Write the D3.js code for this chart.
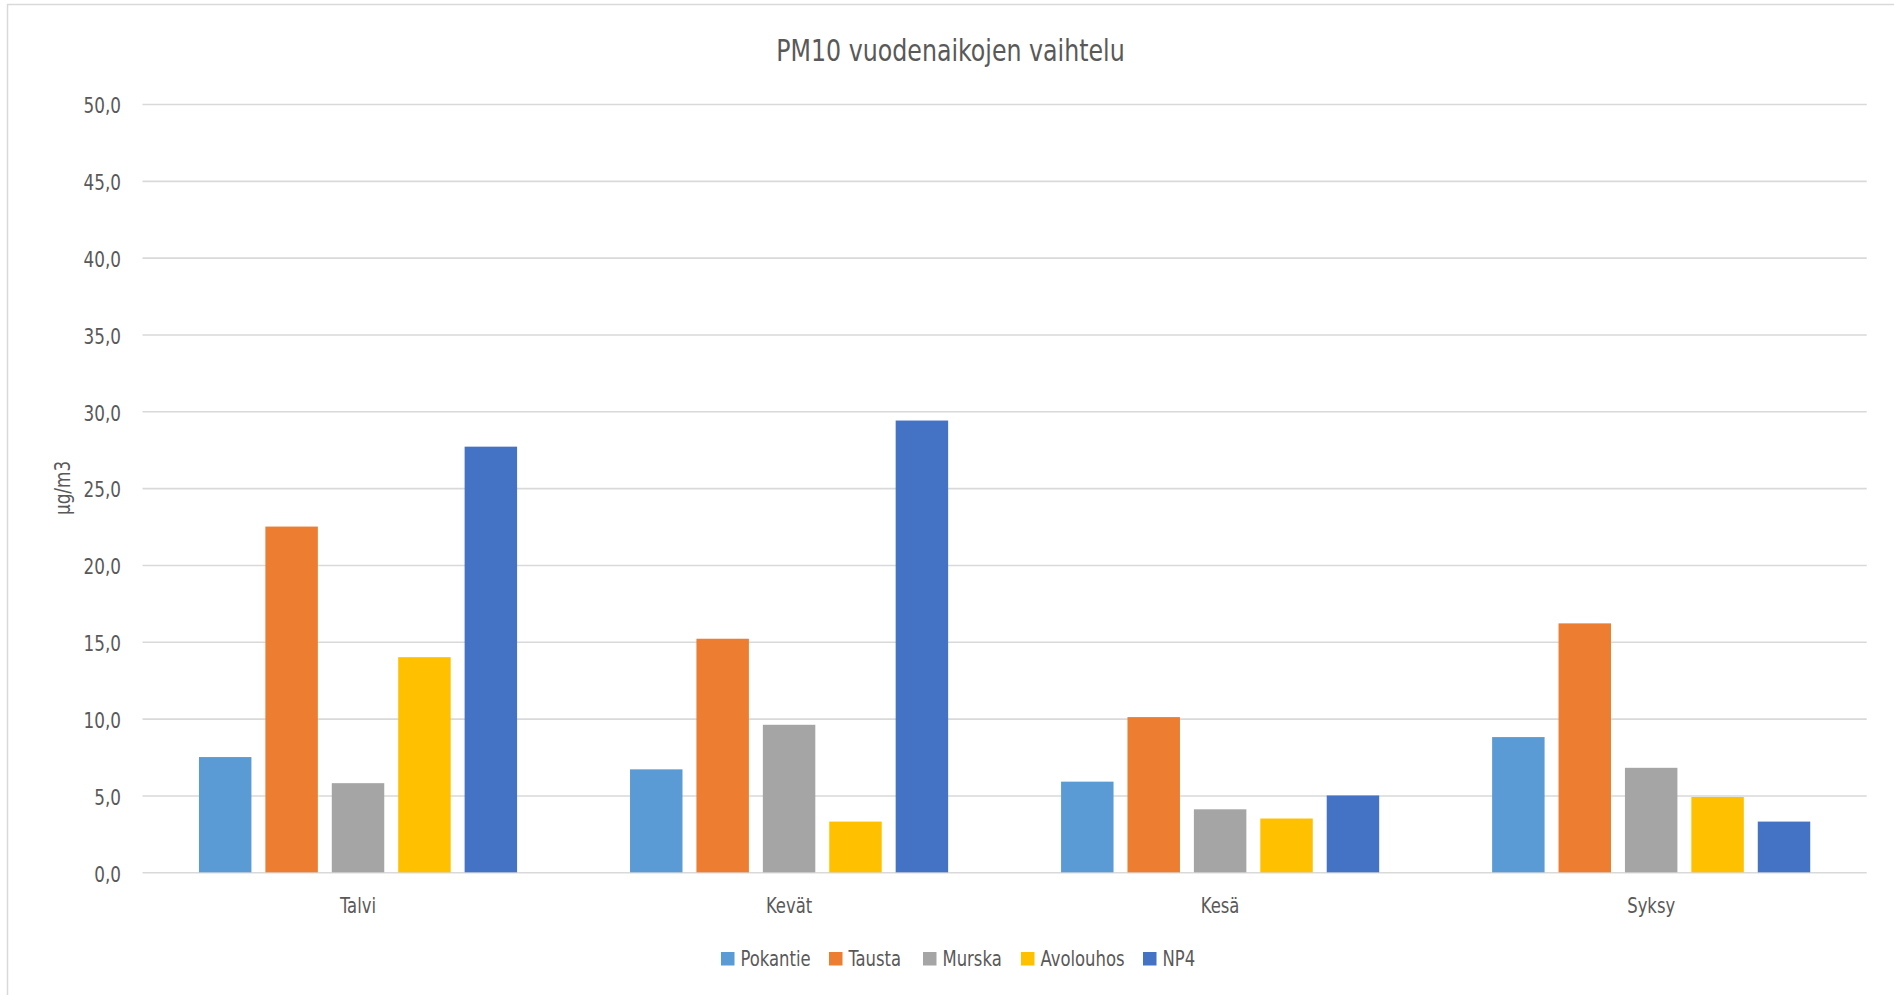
<!DOCTYPE html>
<html>
<head>
<meta charset="utf-8">
<script src="https://cdn.jsdelivr.net/npm/d3@7"></script>
<style>
  body { margin: 0; background: #fff; }
  svg text { font-family: "Liberation Sans Narrow", "DejaVu Sans Condensed", "Arial Narrow", sans-serif; fill: #595959; }
</style>
</head>
<body>
<div id="chart"></div>
<script>
const seasons = ["Talvi", "Kevät", "Kesä", "Syksy"];
const seriesNames = ["Pokantie", "Tausta", "Murska", "Avolouhos", "NP4"];
const seriesColors = ["#5B9BD5", "#ED7D31", "#A5A5A5", "#FFC000", "#4472C4"];
const pokantie = [7.5, 6.7, 5.9, 8.8];
const tausta = [22.5, 15.2, 10.1, 16.2];
const murska = [5.8, 9.6, 4.1, 6.8];
const avolouhos = [14.0, 3.3, 3.5, 4.9];
const np4 = [27.7, 29.4, 5.0, 3.3];
const yTicks = [0, 5, 10, 15, 20, 25, 30, 35, 40, 45, 50];

const allValues = [pokantie, tausta, murska, avolouhos, np4];

let width = 1894;
let height = 995;
let margin = { left: 142.5, right: 27.3, top: 104, bottom: 122.7 };

let svg = d3.select("#chart")
  .append("svg")
  .attr("width", width)
  .attr("height", height);

// chart area border (runs off the right/bottom edge like the original)
svg.append("rect")
  .attr("x", 7.5)
  .attr("y", 4.5)
  .attr("width", width + 10)
  .attr("height", height + 10)
  .attr("fill", "#fff")
  .attr("stroke", "#d9d9d9")
  .attr("stroke-width", 1.5);

let y = d3.scaleLinear()
  .domain([0, 50])
  .range([height - margin.bottom, margin.top]);

let x0 = d3.scaleBand()
  .domain(seasons)
  .range([margin.left, width - margin.right])
  .paddingInner(0.262)
  .paddingOuter(0.131);

let x1 = d3.scaleBand()
  .domain(seriesNames)
  .range([0, x0.bandwidth()])
  .paddingInner(0.21);

let color = d3.scaleOrdinal()
  .domain(seriesNames)
  .range(seriesColors);

// gridlines
let yAxis = d3.axisLeft(y)
  .tickValues(yTicks)
  .tickSize(-(width - margin.left - margin.right))
  .tickFormat(d => d3.format(".1f")(d).replace(".", ","));

let gy = svg.append("g")
  .attr("transform", "translate(" + margin.left + ",0)")
  .call(yAxis);
gy.select(".domain").remove();
gy.selectAll(".tick line")
  .attr("stroke", "#d9d9d9")
  .attr("stroke-width", 1.6);
gy.selectAll(".tick text")
  .attr("x", -21.5)
  .attr("dy", "0.4em")
  .style("font-size", "22px");

// bars
let rows = seasons.map((s, i) => ({
  season: s,
  values: seriesNames.map((name, j) => ({ name: name, value: allValues[j][i] }))
}));

let groups = svg.append("g")
  .attr("class", "bars")
  .selectAll("g")
  .data(rows)
  .enter()
  .append("g")
  .attr("transform", d => "translate(" + x0(d.season) + ",0)");

groups.selectAll("rect")
  .data(d => d.values)
  .enter()
  .append("rect")
  .attr("x", d => x1(d.name))
  .attr("y", d => y(d.value))
  .attr("width", x1.bandwidth())
  .attr("height", d => y(0) - y(d.value))
  .attr("fill", d => color(d.name));

// category axis
let xAxis = d3.axisBottom(x0).tickSize(0);
let gx = svg.append("g")
  .attr("transform", "translate(0," + y(0) + ")")
  .call(xAxis);
gx.select(".domain").remove();
gx.selectAll(".tick text")
  .attr("y", 0)
  .attr("dy", 40.5)
  .style("font-size", "21.5px");

// title
svg.append("text")
  .attr("x", 950.5)
  .attr("y", 61)
  .attr("text-anchor", "middle")
  .style("font-size", "31px")
  .text("PM10 vuodenaikojen vaihtelu");

// y axis title
svg.append("text")
  .attr("transform", "translate(70,488) rotate(-90)")
  .attr("text-anchor", "middle")
  .style("font-size", "22px")
  .text("µg/m3");

// legend
let legendX = [721, 829, 923, 1021, 1143];
let legend = svg.append("g")
  .attr("class", "legend")
  .selectAll("g")
  .data(seriesNames)
  .enter()
  .append("g")
  .attr("transform", (d, i) => "translate(" + legendX[i] + ",952)");

legend.append("rect")
  .attr("width", 13.5)
  .attr("height", 13.5)
  .attr("fill", d => color(d));

legend.append("text")
  .attr("x", 19.5)
  .attr("y", 14)
  .style("font-size", "21.5px")
  .text(d => d);

// the original font is a condensed one, squeeze the fallback font to match
svg.selectAll("text").each(function() {
  let len = this.getComputedTextLength();
  d3.select(this)
    .attr("textLength", len * 0.85)
    .attr("lengthAdjust", "spacingAndGlyphs");
});
</script>
</body>
</html>
